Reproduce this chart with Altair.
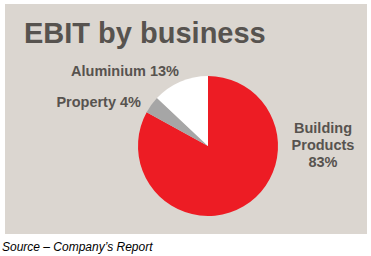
import altair as alt
import pandas as pd

categories = ["Building Products", "Property", "Aluminium"]
shares = [83, 4, 13]
colors = ["#ED1C24", "#A6A6A6", "#FFFFFF"]

df = pd.DataFrame({"business": categories, "share": shares, "order": [0, 1, 2]})

TXT = "#57534F"
FONT = "Liberation Sans"

pie = alt.Chart(df).mark_arc(radius=70, x=203, y=142, stroke=None).encode(
    theta=alt.Theta("share:Q", stack=True),
    order=alt.Order("order:Q"),
    color=alt.Color("business:N", scale=alt.Scale(domain=categories, range=colors), legend=None),
)

def label(text, x, y, align="center", size=14.5, weight="bold", color=TXT, style="normal", font=FONT, lh=None):
    kw = dict(text=text, align=align, baseline="middle", fontSize=size, fontWeight=weight,
              color=color, font=font, fontStyle=style)
    if lh:
        kw["lineHeight"] = lh
    return alt.Chart(pd.DataFrame({"a": [0]})).mark_text(**kw).encode(
        x=alt.value(x), y=alt.value(y)
    )

title = alt.Chart(pd.DataFrame({"a": [0]})).mark_text(
    text="EBIT by business", align="left", baseline="alphabetic", fontSize=29,
    fontWeight="bold", color=TXT, font=FONT
).encode(x=alt.value(19), y=alt.value(39))

alu = label("Aluminium 13%", 174, 68, align="right")
prop = label("Property 4%", 136, 99, align="right")
bp = label(["Building", "Products", "83%"], 318, 125, lh=17)
src = label("Source \u2013 Company\u2019s Report", -3, 243, align="left", size=12, weight="normal",
            color="#000000", style="italic")

chart = alt.layer(pie, title, alu, prop, bp, src).properties(
    width=362, height=230,
    autosize=alt.AutoSizeParams(type="none"),
    padding={"left": 5, "top": 4, "right": 4, "bottom": 22},
    background="#FFFFFF",
).configure_view(fill="#DBD6D0", stroke=None)

chart.save("out.html", embed_options={"renderer": "svg", "actions": False})
